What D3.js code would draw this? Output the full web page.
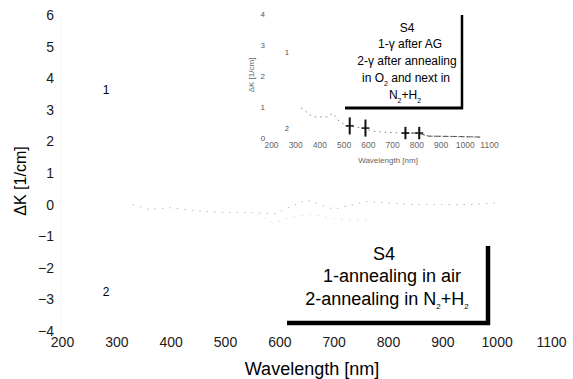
<!DOCTYPE html>
<html lang="en">
<head>
<meta charset="UTF-8">
<title>S4 ΔK spectra</title>
<script src="https://d3js.org/d3.v7.min.js"></script>
<style>
  body { margin: 0; background: #fff; }
  svg { display: block; font-family: Arial, "Liberation Sans", sans-serif; }
</style>
</head>
<body>
<div id="chart"></div>
<script>
// main chart data (faded scan, values near zero)
const xTicks = [200, 300, 400, 500, 600, 700, 800, 900, 1000, 1100];
const yTicks = [-4, -3, -2, -1, 0, 1, 2, 3, 4, 5, 6];
const wl1 = [330, 360, 400, 450, 500, 560, 590, 650, 700, 760, 800, 850, 900, 950, 1000];
const dk1 = [0.0, -0.15, -0.1, -0.2, -0.25, -0.25, -0.3, 0.15, -0.15, 0.1, 0.05, 0.0, 0.0, 0.0, 0.05];
const wl2 = [560, 575, 590, 620, 660, 700, 760];
const dk2 = [-0.3, -0.45, -0.6, -0.4, -0.3, -0.45, -0.5];

// inset data
const insetXTicks = [200, 300, 400, 500, 600, 700, 800, 900, 1000, 1100];
const insetYTicks = [0, 1, 2, 3, 4];
const insetWl = [324, 345, 361, 382, 431, 456, 480, 514, 545, 580, 620, 680, 745, 807, 850, 950, 1064];
const insetDk = [0.97, 0.85, 0.74, 0.68, 0.68, 0.8, 0.55, 0.39, 0.36, 0.32, 0.22, 0.18, 0.16, 0.16, 0.06, 0.05, 0.03];
const insetSpikes = [525, 590, 755, 812];

const width = 573, height = 379;
const fmt = d3.format("d");
const svg = d3.select("#chart").append("svg")
  .attr("width", width).attr("height", height);

const x = d3.scaleLinear().domain([200, 1100]).range([62, 551]);
const y = d3.scaleLinear().domain([-4, 6]).range([331, 15]);

// y axis (faded)
const yAxis = svg.append("g")
  .attr("transform", "translate(60,0)")
  .call(d3.axisLeft(y).tickValues(yTicks).tickFormat(fmt).tickSize(0).tickPadding(6));
yAxis.select(".domain").attr("stroke", "#f6f6f6");
yAxis.selectAll("text").attr("font-size", 14).attr("fill", "#1a1a1a")
  .attr("font-family", "Arial, 'Liberation Sans', sans-serif");

// x axis labels sit just under the -4 line
const xAxis = svg.append("g")
  .attr("transform", "translate(0,331)")
  .call(d3.axisBottom(x).tickValues(xTicks).tickFormat(fmt).tickSize(0).tickPadding(6));
xAxis.select(".domain").remove();
xAxis.selectAll("text").attr("font-size", 14).attr("fill", "#1a1a1a")
  .attr("font-family", "Arial, 'Liberation Sans', sans-serif");

svg.append("text")
  .attr("x", 312).attr("y", 375)
  .attr("text-anchor", "middle")
  .attr("font-size", 18)
  .text("Wavelength [nm]");

svg.append("text")
  .attr("transform", "translate(26,181) rotate(-90)")
  .attr("text-anchor", "middle")
  .attr("font-size", 16)
  .text("ΔK [1/cm]");

// faint curves
const line = d3.line().x(d => x(d[0])).y(d => y(d[1]));
svg.append("path")
  .datum(d3.zip(wl1, dk1))
  .attr("fill", "none").attr("stroke", "#bdbdbd").attr("stroke-width", 1)
  .attr("stroke-dasharray", "1.5,6")
  .attr("d", line);
svg.append("path")
  .datum(d3.zip(wl2, dk2))
  .attr("fill", "none").attr("stroke", "#cfcfcf").attr("stroke-width", 1)
  .attr("stroke-dasharray", "1,7")
  .attr("d", line);

svg.append("text").attr("x", 106).attr("y", 94).attr("text-anchor", "middle")
  .attr("font-size", 12).text("1");
svg.append("text").attr("x", 106).attr("y", 296).attr("text-anchor", "middle")
  .attr("font-size", 12).text("2");

// main legend box
const lg = svg.append("g");
lg.append("text").attr("x", 384).attr("y", 260).attr("text-anchor", "middle")
  .attr("font-size", 18).text("S4");
lg.append("text").attr("x", 392).attr("y", 282).attr("text-anchor", "middle")
  .attr("font-size", 18).text("1-annealing in air");
const t2 = lg.append("text").attr("x", 387).attr("y", 305).attr("text-anchor", "middle")
  .attr("font-size", 18);
t2.append("tspan").text("2-annealing in N");
t2.append("tspan").attr("font-size", 8).attr("dy", 4).text("2");
t2.append("tspan").attr("dy", -4).text("+H");
t2.append("tspan").attr("font-size", 8).attr("dy", 4).text("2");
lg.append("line").attr("x1", 488).attr("x2", 488).attr("y1", 246).attr("y2", 325)
  .attr("stroke", "#000").attr("stroke-width", 4.5);
lg.append("line").attr("x1", 287).attr("x2", 490).attr("y1", 323).attr("y2", 323)
  .attr("stroke", "#000").attr("stroke-width", 4.5);

// inset
const ix = d3.scaleLinear().domain([200, 1100]).range([271, 489]);
const iy = d3.scaleLinear().domain([0, 4]).range([138, 14]);
const inset = svg.append("g");

const iyAxis = inset.append("g")
  .attr("transform", "translate(268,0)")
  .call(d3.axisLeft(iy).tickValues(insetYTicks.slice(1)).tickFormat(fmt).tickSize(0).tickPadding(3));
iyAxis.select(".domain").remove();
iyAxis.selectAll("text").attr("font-size", 8).attr("fill", "#555")
  .attr("font-family", "Arial, 'Liberation Sans', sans-serif");
inset.append("text").attr("x", 263).attr("y", 141).attr("text-anchor", "middle")
  .attr("font-size", 8).attr("fill", "#555").text(insetYTicks[0]);

const ixAxis = inset.append("g")
  .attr("transform", "translate(0,141)")
  .call(d3.axisBottom(ix).tickValues(insetXTicks).tickFormat(fmt).tickSize(0).tickPadding(1));
ixAxis.select(".domain").remove();
ixAxis.selectAll("text").attr("font-size", 8.5).attr("fill", "#666")
  .attr("font-family", "Arial, 'Liberation Sans', sans-serif");

inset.append("text").attr("x", 388).attr("y", 163).attr("text-anchor", "middle")
  .attr("font-size", 8).attr("fill", "#666").text("Wavelength [nm]");
inset.append("text")
  .attr("transform", "translate(254,75) rotate(-90)")
  .attr("text-anchor", "middle")
  .attr("font-size", 8).attr("fill", "#666").text("ΔK [1/cm]");

const iline = d3.line().x(d => ix(d[0])).y(d => iy(d[1]));
inset.append("path")
  .datum(d3.zip(insetWl, insetDk))
  .attr("fill", "none").attr("stroke", "#888").attr("stroke-width", 1)
  .attr("stroke-dasharray", "1.5,4")
  .attr("d", iline);
inset.append("path")
  .datum(d3.zip(insetWl, insetDk).filter(d => d[0] > 700))
  .attr("fill", "none").attr("stroke", "#555").attr("stroke-width", 1)
  .attr("stroke-dasharray", "6,2")
  .attr("d", iline);

// spikes in inset
insetSpikes.forEach((w, i) => {
  const h = i < 2 ? 0.55 : 0.4;
  const base = d3.zip(insetWl, insetDk).reduce((a, b) => Math.abs(b[0] - w) < Math.abs(a[0] - w) ? b : a)[1];
  inset.append("line")
    .attr("x1", ix(w)).attr("x2", ix(w))
    .attr("y1", iy(base + h / 2)).attr("y2", iy(Math.max(base - h / 2, -0.05)))
    .attr("stroke", "#111").attr("stroke-width", 2);
  inset.append("line")
    .attr("x1", ix(w) - 4).attr("x2", ix(w) + 4)
    .attr("y1", iy(base)).attr("y2", iy(base))
    .attr("stroke", "#111").attr("stroke-width", 1.5);
});

inset.append("text").attr("x", 287).attr("y", 55).attr("text-anchor", "middle")
  .attr("font-size", 7).attr("fill", "#444").text("1");
inset.append("text").attr("x", 287).attr("y", 131).attr("text-anchor", "middle")
  .attr("font-size", 7).attr("fill", "#444").text("2");

// inset legend
const il = inset.append("g").attr("font-size", 12).attr("text-anchor", "middle");
il.append("text").attr("x", 407).attr("y", 32).text("S4");
il.append("text").attr("x", 410).attr("y", 48).text("1-γ after AG");
il.append("text").attr("x", 407).attr("y", 65).text("2-γ after annealing");
const io = il.append("text").attr("x", 406).attr("y", 82);
io.append("tspan").text("in O");
io.append("tspan").attr("font-size", 7).attr("dy", 4).text("2");
io.append("tspan").attr("dy", -4).text(" and next in");
const inh = il.append("text").attr("x", 405).attr("y", 99);
inh.append("tspan").text("N");
inh.append("tspan").attr("font-size", 7).attr("dy", 4).text("2");
inh.append("tspan").attr("dy", -4).text("+H");
inh.append("tspan").attr("font-size", 7).attr("dy", 4).text("2");
inset.append("line").attr("x1", 462).attr("x2", 462).attr("y1", 15).attr("y2", 109)
  .attr("stroke", "#000").attr("stroke-width", 2.5);
inset.append("line").attr("x1", 345).attr("x2", 463).attr("y1", 108).attr("y2", 108)
  .attr("stroke", "#000").attr("stroke-width", 3);
</script>
</body>
</html>
